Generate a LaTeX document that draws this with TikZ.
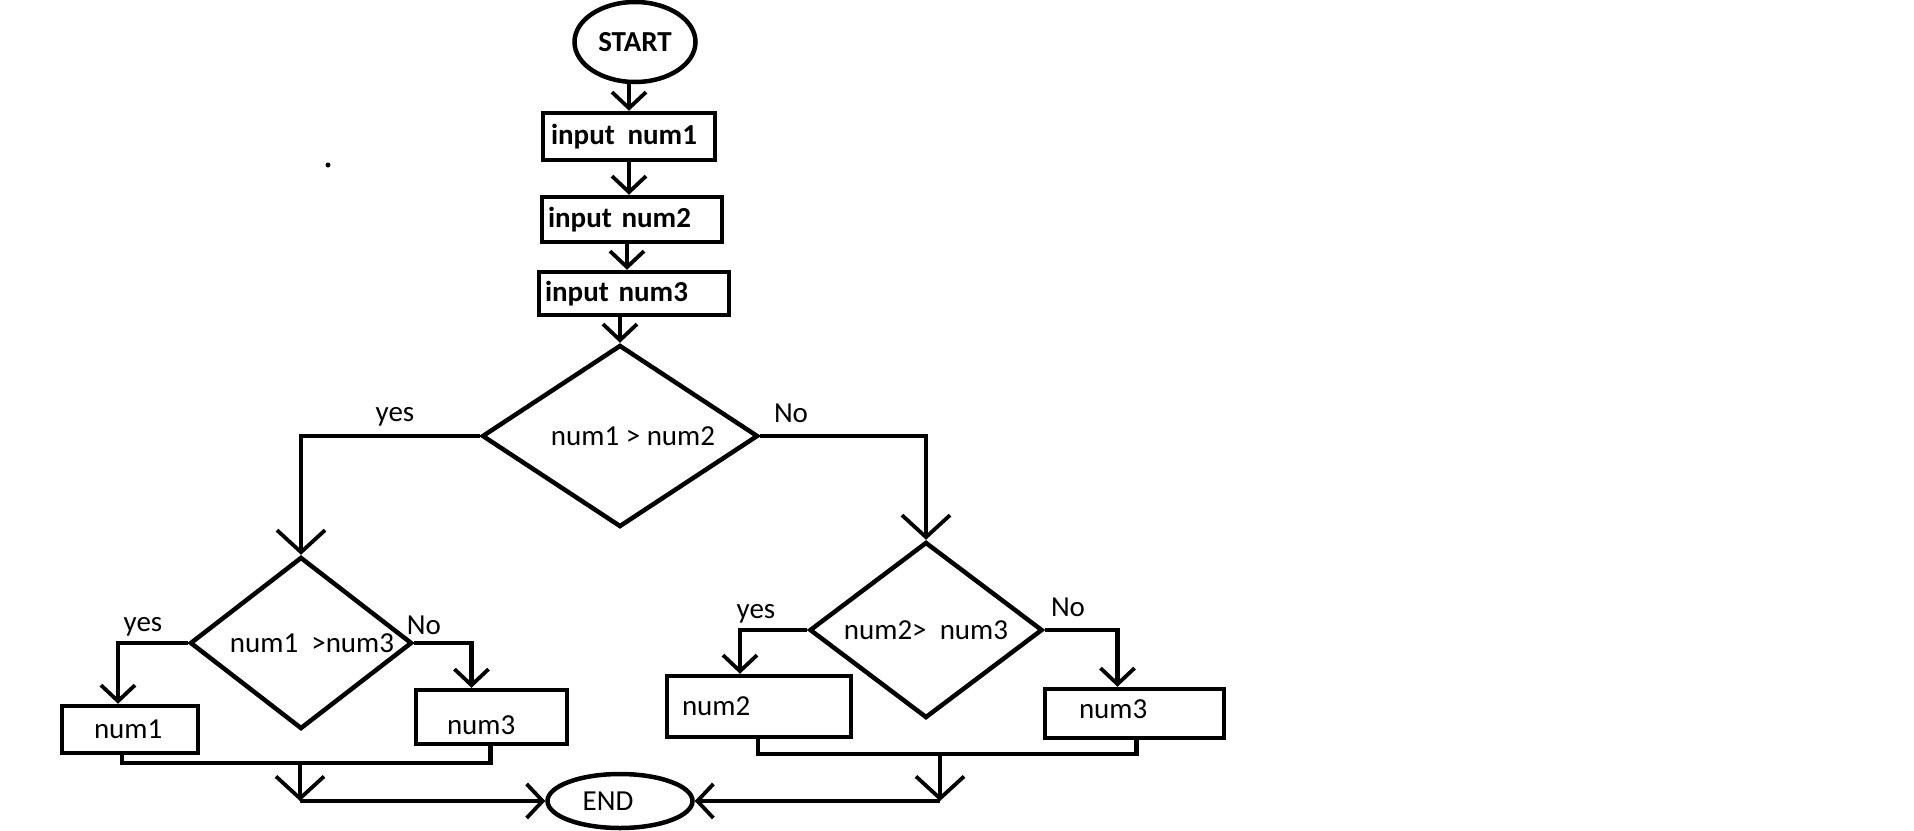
\documentclass[tikz,border=0pt]{standalone}
\usepackage{fontspec}
\setmainfont{Carlito}
\usetikzlibrary{shapes.geometric,arrows.meta}
\newcommand\flowfont{\fontsize{29}{35}\selectfont}
\begin{document}
\begin{tikzpicture}[x=1pt,y=-1pt,
  every node/.style={font=\flowfont, inner sep=0pt},
  flow/.style={line width=4.5pt},
  arr/.style={flow, -{Straight Barb[length=16pt,width=34pt,line width=3.8pt]}},
  arrbig/.style={flow, -{Straight Barb[length=22pt,width=48pt,line width=3.8pt]}},
  term/.style={draw, ellipse, line width=4.5pt},
  proc/.style={draw, rectangle, line width=4.5pt, align=left},
  decision/.style={draw, diamond, aspect=1.5, line width=4.5pt},
  bold/.style={font=\flowfont\bfseries}
]
\useasboundingbox (0,0) rectangle (1914,830);

% start and the three inputs
\node[term, bold, minimum width=121pt, minimum height=80pt] (start) at (635,42) {START};
\node[proc, bold, minimum width=172pt, minimum height=47pt, inner xsep=8pt, text width=156pt] (in1) at (629,136.5) {input\hspace{3pt} num1};
\node[proc, bold, minimum width=180pt, minimum height=45pt, inner xsep=6pt, text width=168pt] (in2) at (632,219.5) {input num2};
\node[proc, bold, minimum width=190pt, minimum height=43pt, inner xsep=6pt, text width=178pt] (in3) at (634,293.5) {input num3};

% decisions
\node[decision, minimum width=276pt, minimum height=182pt] (d1) at (620,436) {\hspace*{26pt}num1 > num2};
\node[decision, minimum width=222pt, minimum height=172pt] (d2) at (301,643) {\hspace*{22pt}num1\ \ >num3};
\node[decision, minimum width=233pt, minimum height=176pt] (d3) at (926,630) {num2>\ \ num3};

% results
\node[proc, minimum width=136pt, minimum height=47pt, inner xsep=32pt, text width=72pt] (n1) at (130,729.5) {num1};
\node[proc, minimum width=151pt, minimum height=54pt, inner xsep=31pt, text width=89pt, text height=35pt] (n3a) at (491.5,717) {num3};
\node[proc, minimum width=184pt, minimum height=61pt, inner xsep=15pt, text width=154pt] (n2) at (759,706.5) {num2};
\node[proc, minimum width=179pt, minimum height=49pt, inner xsep=34pt, text width=111pt, text depth=8pt] (n3b) at (1134.5,713.5) {num3};

% end
\node[term, minimum width=145pt, minimum height=54pt] (end) at (620,801) {END\hspace*{24pt}};

% branch labels
\node (y1) at (395,417) {yes};
\node (no1) at (791,413) {No};
\node (y2) at (143,627) {yes};
\node (no2) at (424,625) {No};
\node (y3) at (756,614) {yes};
\node (no3) at (1068,607) {No};

% stray dot
\fill (328,165) circle (2.5pt);

% main chain
\draw[arr] (start.south -| in1.north) -- (in1.north);
\draw[arr] (in1.south) -- (in1.south |- in2.north);
\coordinate (a23) at ([xshift=-5pt]in2.south);
\draw[arr] (a23) -- (a23 |- in3.north);
\draw[arr] (in3.south -| d1.north) -- (d1.north);

% first decision
\draw[arrbig] (d1.west) -| (d2.north);
\draw[arrbig] (d1.east) -| (d3.north);

% second and third decisions
\coordinate (t1) at ([xshift=-12pt]n1.north);
\draw[arr] (d2.west) -| (t1);
\coordinate (t3a) at ([xshift=-20pt]n3a.north);
\draw[arr] (d2.east) -| (t3a);
\coordinate (t2) at ([xshift=-19pt]n2.north);
\draw[arr] (d3.west) -| (t2);
\coordinate (t3b) at ([xshift=-17pt]n3b.north);
\draw[arr] (d3.east) -| (t3b);

% left merge into END
\coordinate (s1) at ([xshift=-8pt]n1.south);
\coordinate (s3a) at ([xshift=-1pt]n3a.south);
\coordinate (j1) at (300,763);
\draw[flow] (s1) |- (j1) -| (s3a);
\coordinate (c1) at (j1 |- end.west);
\draw[arrbig] (j1) -- (c1);
\draw[arr] (c1) -- (end.west);

% right merge into END
\coordinate (s2) at ([xshift=-1pt]n2.south);
\coordinate (s3b) at ([xshift=2pt]n3b.south);
\coordinate (j2) at (940,754);
\draw[flow] (s2) |- (j2) -| (s3b);
\coordinate (c2) at (j2 |- end.east);
\draw[arrbig] (j2) -- (c2);
\draw[arr] (c2) -- (end.east);
\end{tikzpicture}
\end{document}
